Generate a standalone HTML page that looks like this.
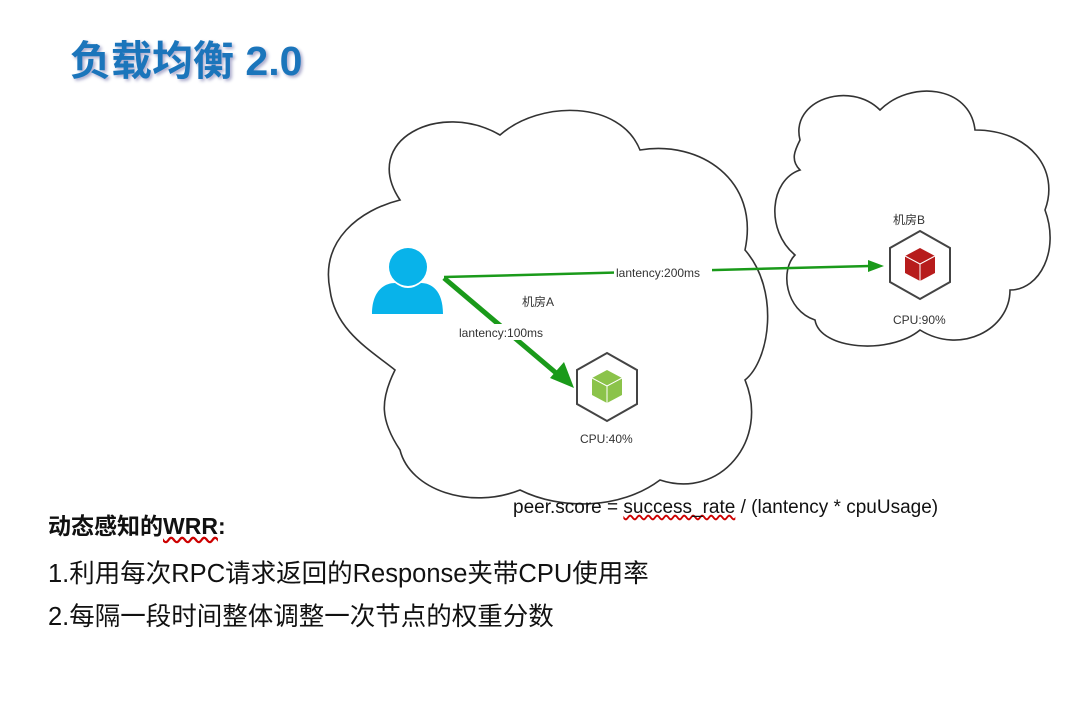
<!DOCTYPE html>
<html><head><meta charset="utf-8"><style>
body{margin:0;width:1067px;height:711px;background:#fff;overflow:hidden;position:relative;font-family:"Liberation Sans","Noto Sans CJK SC",sans-serif}
.t{position:absolute;white-space:nowrap}
</style></head><body>
<div class="t" style="left:70px;top:27px;font-size:41px;font-weight:bold;color:#1b75bb;text-shadow:2px 2px 3px #aac">负载均衡 2.0</div>
<svg width="1067" height="711" style="position:absolute;left:0;top:0">
<g fill="none" stroke="#333" stroke-width="1.6">
<path d="M400,200 C360,140 440,100 500,135 C540,100 620,100 640,150 C700,140 760,180 745,250 C780,290 770,360 745,380 C770,440 720,500 660,480 C620,510 560,510 520,490 C470,510 410,490 400,450 C380,420 380,400 395,370 C370,350 335,330 330,290 C320,240 360,210 400,200 Z"/>
<path d="M800,140 C790,100 850,80 880,110 C910,80 970,85 975,130 C1030,130 1060,170 1045,210 C1060,250 1040,290 1010,290 C1010,330 960,355 920,330 C890,355 820,350 815,320 C785,310 780,270 795,255 C765,230 770,180 800,170 C790,160 795,150 800,140 Z"/>
</g>
<line x1="444" y1="277" x2="870" y2="266" stroke="#1a9a1a" stroke-width="2.5"/>
<polygon points="884,266 868,260 868,272" fill="#1a9a1a"/>
<line x1="444" y1="278" x2="562" y2="378" stroke="#1a9a1a" stroke-width="5"/>
<polygon points="574,388 550,378 564,362" fill="#1a9a1a"/>
<rect x="455" y="324" width="100" height="16" fill="#fff"/>
<rect x="614" y="264" width="98" height="16" fill="#fff"/>
<g fill="#08b3ea"><circle cx="408" cy="267" r="19"/><path d="M372,314 C372,290 385,283 395,283 Q408,293 421,283 C431,283 443,290 443,314 Z"/></g>
<g stroke="#444" stroke-width="2" fill="none"><path d="M607,353 L637,370 L637,404 L607,421 L577,404 L577,370 Z"/></g>
<path d="M607,370 L622,378 L622,395 L607,403 L592,395 L592,378 Z" fill="#8bc34a"/>
<path d="M607,386 L622,378 M607,386 L592,378 M607,386 L607,403" stroke="#fff" stroke-width="1"/>
<g stroke="#444" stroke-width="2" fill="none"><path d="M920,231 L950,248 L950,282 L920,299 L890,282 L890,248 Z"/></g>
<path d="M920,248 L935,256 L935,273 L920,281 L905,273 L905,256 Z" fill="#b71c1c"/>
<path d="M920,264 L935,256 M920,264 L905,256 M920,264 L920,281" stroke="#fff" stroke-width="1"/>
</svg>
<div class="t" style="left:522px;top:293px;font-size:12px;color:#333">机房A</div>
<div class="t" style="left:459px;top:326px;font-size:12px;color:#333">lantency:100ms</div>
<div class="t" style="left:616px;top:266px;font-size:12px;color:#333">lantency:200ms</div>
<div class="t" style="left:580px;top:432px;font-size:12px;color:#333">CPU:40%</div>
<div class="t" style="left:893px;top:211px;font-size:12px;color:#333">机房B</div>
<div class="t" style="left:893px;top:313px;font-size:12px;color:#333">CPU:90%</div>
<div class="t" style="left:513px;top:497px;font-size:19px;color:#111">peer.score = <span style="text-decoration:underline wavy #c00">success_rate</span> / (lantency * cpuUsage)</div>
<div class="t" style="left:48px;top:507px;font-size:23px;font-weight:bold;color:#111">动态感知的<span style="text-decoration:underline wavy #c00">WRR</span>:</div>
<div class="t" style="left:48px;top:553px;font-size:25.5px;color:#111">1.利用每次RPC请求返回的Response夹带CPU使用率</div>
<div class="t" style="left:48px;top:596px;font-size:25.5px;color:#111">2.每隔一段时间整体调整一次节点的权重分数</div>
</body></html>
